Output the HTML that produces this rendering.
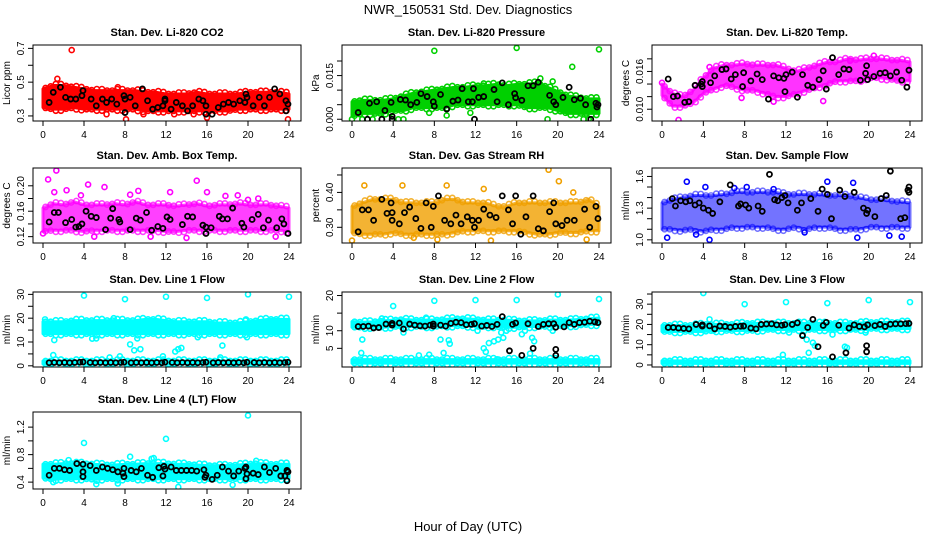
<!DOCTYPE html>
<html><head><meta charset="utf-8"><style>
html,body{margin:0;padding:0;background:#fff}
svg text{font-family:"Liberation Sans",sans-serif}
</style></head><body>
<svg id="chart" width="936" height="540" viewBox="0 0 936 540" xmlns="http://www.w3.org/2000/svg">
<text x="468" y="14" font-size="13" text-anchor="middle">NWR_150531  Std. Dev. Diagnostics</text>
<text x="468" y="531" font-size="13" text-anchor="middle">Hour of Day (UTC)</text>
</svg>
<script>
const xTicks = [0,4,8,12,16,20,24];

const co2Lo = [.35,.34,.34,.35,.34,.34,.34,.34,.34,.34,.33,.33,.33,.33,.33,.33,.33,.33,.33,.34,.34,.34,.34,.34,.34];
const co2Hi = [.46,.48,.48,.47,.46,.45,.45,.45,.45,.45,.44,.44,.43,.43,.43,.44,.43,.43,.43,.43,.44,.44,.44,.44,.43];
const co2Out = [[2.8,.69],[1.4,.52],[8.1,.28],[23.9,.28],[16,.29],[7.3,.47],[9.8,.31],[6.2,.31],[12.8,.31],[0.5,.35],[14.7,.31]];
const co2Blk = [[0.6,.38],[1,.44],[1.7,.47],[2.2,.41],[2.7,.40],[3.2,.40],[3.8,.42],[3.9,.45],[4.7,.40],[5.2,.36],[5.8,.40],[6.2,.38],[6.7,.40],[7.2,.37],[7.9,.42],[8,.40],[8,.32],[8.5,.41],[9,.36],[9.7,.46],[10.2,.39],[10.7,.34],[11.2,.35],[11.7,.36],[11.9,.39],[11.9,.40],[12.5,.34],[13,.38],[13.6,.36],[14.1,.33],[14.6,.36],[15.2,.40],[15.6,.39],[15.9,.36],[15.9,.31],[16.5,.31],[17.1,.35],[17.6,.37],[18.1,.38],[18.6,.37],[19.2,.39],[19.7,.38],[19.8,.43],[19.9,.41],[20.5,.36],[21.1,.41],[21.6,.36],[22.1,.41],[22.6,.46],[23.1,.43],[23.7,.39],[23.7,.33],[23.9,.37]];

const presLo = [.001,.002,.002,.002,.003,.003,.004,.004,.004,.004,.005,.005,.005,.005,.005,.005,.005,.004,.004,.004,.003,.002,.002,.002,.002];
const presHi = [.006,.0065,.0065,.0065,.007,.008,.009,.0095,.010,.0105,.011,.011,.0115,.0115,.012,.0115,.012,.012,.0125,.011,.0095,.008,.0075,.007,.007];
const presOut = [[8,.0235],[16,.0245],[24,.024],[21.4,.018],[19.5,.013],[18.3,.014],[12.8,.0123],[0,0],[1,0],[2,0],[4.5,0],[5,0],[19,0],[22.5,0],[23,0],[9.2,.0013],[7.5,.0022],[11.5,.0022]];
const presBlk = [[0.6,.0023],[1.5,0],[1.7,.0055],[2.4,.006],[2.9,0],[3.2,.003],[3.8,.0058],[3.9,.001],[3.9,0],[4.7,.0068],[5.2,.0066],[5.7,.005],[6.3,.0058],[6.7,.0088],[7.3,.0078],[7.9,.006],[8,.0045],[8.6,.0085],[9.2,.0035],[9.8,.0062],[10.3,.0066],[10.7,.0105],[11.3,.006],[11.7,.006],[11.8,.0105],[11.9,0],[12.3,.0075],[12.8,.0078],[13.8,.0102],[14.1,.006],[14.6,.0125],[15.2,.005],[15.8,.0088],[15.9,.0074],[16.5,.0065],[17.1,.0115],[17.6,.0115],[18.1,.0127],[19.2,.0082],[19.6,.006],[19.8,.005],[20.5,.0075],[21.1,.011],[21.6,.0067],[22.2,.0072],[22.7,.005],[23.2,0],[23.7,.0055],[23.8,.0042],[23.9,.005]];

const tempLo = [.0122,.0105,.0105,.011,.0125,.0132,.0138,.0135,.013,.013,.0125,.012,.012,.0125,.013,.0135,.014,.0145,.0145,.0145,.015,.015,.0148,.0145,.0145];
const tempHi = [.014,.0125,.012,.013,.015,.0165,.017,.017,.0172,.017,.017,.017,.0165,.016,.0165,.017,.0175,.0175,.018,.0178,.018,.018,.0178,.0178,.0175];
const tempOut = [[1.6,.0083],[18.2,.0177],[4.6,.0167],[10.8,.0112],[15.6,.0113],[7.7,.0118],[20.5,.0185],[0,.0142]];
const tempBlk = [[0.6,.0148],[1.1,.0120],[1.5,.0121],[2.2,.0111],[2.6,.0112],[3.2,.0138],[3.8,.0140],[3.9,.0144],[3.9,.0136],[4.7,.0142],[5.1,.0153],[5.8,.0163],[6.2,.0164],[6.7,.0148],[7.1,.0155],[7.8,.0136],[7.9,.0158],[8.6,.0145],[9.2,.0156],[9.7,.0147],[10.3,.0116],[10.8,.0153],[11.3,.0150],[11.8,.0149],[11.9,.0128],[12,.0155],[12.6,.0159],[13.1,.0119],[13.6,.0155],[14.1,.0138],[14.6,.0135],[15.2,.0147],[15.6,.0161],[15.9,.0132],[16.5,.0182],[17.1,.0155],[17.6,.0164],[18.1,.0163],[19.2,.0146],[19.7,.0157],[19.9,.0147],[19.8,.0169],[20.5,.0152],[21.1,.0157],[21.6,.0158],[22.1,.0153],[22.7,.0159],[23.2,.0146],[23.7,.0135],[23.9,.0162]];

const ambLo = [.128,.13,.13,.13,.128,.13,.13,.13,.13,.13,.13,.13,.128,.128,.13,.13,.13,.13,.13,.13,.13,.13,.13,.13,.128];
const ambHi = [.165,.172,.17,.175,.17,.17,.17,.172,.17,.175,.17,.17,.17,.168,.17,.172,.168,.17,.17,.172,.17,.17,.17,.168,.165];
const ambOut = [[0.5,.21],[1.3,.224],[1.1,.19],[4.4,.202],[3.7,.185],[2.3,.193],[6,.198],[9.3,.192],[12.4,.19],[15,.208],[16,.19],[19,.185],[20,.178],[21,.18],[0,.125],[5,.12],[14,.118],[22.7,.12],[8.5,.186],[17.8,.184],[10.5,.12]];
const ambBlk = [[0.6,.143],[1.1,.158],[1.5,.158],[2.2,.142],[2.8,.147],[3.2,.135],[3.5,.136],[3.8,.14],[4.2,.16],[4.7,.152],[5.2,.15],[6.1,.131],[6.6,.149],[6.8,.164],[7.4,.147],[7.5,.143],[8.5,.131],[9.1,.149],[9.5,.146],[10.1,.158],[10.6,.13],[11.2,.136],[11.7,.133],[12.1,.151],[12.4,.147],[13.6,.139],[14.1,.152],[14.6,.151],[15.6,.138],[15.9,.135],[15.9,.125],[16.4,.134],[17.2,.152],[17.5,.148],[18,.148],[18.5,.165],[19.4,.141],[19.6,.135],[20.4,.147],[21,.155],[21.5,.134],[22,.146],[22.8,.134],[23.3,.148],[23.5,.14],[23.9,.125]];

const rhLo = [.285,.28,.28,.28,.285,.28,.28,.28,.28,.28,.285,.29,.29,.29,.29,.29,.29,.285,.28,.28,.285,.285,.285,.29,.29];
const rhHi = [.36,.37,.38,.38,.38,.37,.37,.37,.37,.38,.38,.37,.37,.37,.36,.36,.37,.37,.37,.37,.37,.37,.37,.38,.36];
const rhOut = [[19.1,.465],[20.1,.432],[4.9,.42],[9.2,.42],[1.2,.42],[0,.262],[13.5,.262],[6,.27],[12.8,.41],[21.5,.4],[8.3,.265],[22.8,.265]];
const rhBlk = [[0.6,.287],[1,.35],[1.6,.35],[2.1,.32],[2.9,.38],[3.4,.34],[3.8,.37],[3.9,.342],[3.9,.32],[4.6,.31],[5.1,.342],[5.6,.358],[6.2,.325],[6.7,.297],[7.2,.37],[7.7,.30],[7.9,.36],[8.4,.39],[9,.32],[9.6,.31],[10.1,.335],[10.6,.31],[11.2,.33],[11.7,.32],[11.9,.30],[12.3,.32],[12.8,.352],[13.4,.335],[14,.328],[14.6,.39],[15.2,.35],[15.6,.31],[15.9,.39],[16.4,.28],[16.9,.33],[17.6,.39],[18.1,.296],[18.6,.29],[19.2,.345],[19.6,.37],[19.8,.31],[20.4,.305],[20.9,.32],[21.6,.32],[22.6,.352],[23.1,.30],[23.7,.36],[23.9,.325]];

const flowLo = [1.1,1.1,1.09,1.1,1.08,1.1,1.1,1.12,1.12,1.12,1.12,1.1,1.1,1.12,1.1,1.12,1.12,1.1,1.1,1.1,1.12,1.12,1.12,1.12,1.12];
const flowHi = [1.35,1.38,1.4,1.42,1.42,1.42,1.43,1.45,1.45,1.45,1.45,1.45,1.43,1.43,1.43,1.43,1.42,1.42,1.42,1.4,1.38,1.38,1.37,1.36,1.35];
const flowOut = [[0.5,1.02],[2.4,1.55],[4.2,1.5],[18.5,1.54],[4.6,1.0],[18.9,1.02],[22,1.04],[16,1.55],[7,1.49],[8.2,1.5],[10.8,1.48],[3.3,1.05],[13.8,1.07],[23.2,1.03]];
const flowBlk = [[1,1.39],[1.3,1.32],[1.8,1.37],[2.3,1.36],[2.7,1.37],[3.2,1.33],[3.6,1.35],[4,1.3],[4.5,1.28],[4.9,1.25],[5.6,1.36],[6.6,1.52],[7.4,1.32],[7.6,1.34],[8.1,1.33],[8.4,1.3],[9.3,1.32],[9.7,1.27],[10.4,1.62],[10.9,1.38],[11.2,1.37],[11.6,1.40],[11.9,1.42],[12.2,1.35],[13.1,1.28],[13.5,1.35],[14.4,1.39],[15.1,1.27],[15.5,1.48],[16,1.43],[16.4,1.2],[17.2,1.47],[17.7,1.41],[18.6,1.45],[19.5,1.30],[19.8,1.25],[19.9,1.28],[20.6,1.22],[21.2,1.39],[21.7,1.42],[22.1,1.65],[23.1,1.2],[23.5,1.21],[23.8,1.47],[23.9,1.5],[23.9,1.45]];

const l1Lo = [13.5,13.5,13.5,13.5,13.5,13.5,13.5,13.5,13.5,13.5,13.5,13.5,13.5,13.5,13.5,13.5,13.5,13.5,13.5,13.5,13.5,13.5,13.5,13.5,13.5];
const l1Hi = [18.5,18.5,18.5,19,19,19,19,19,19,19,19.5,19.5,19,18.5,18.5,18.5,18.5,18,18,18,18.5,19,19.5,19.5,19.5];
const l1bLo = [0.8,0.8,0.8,0.8,0.8,0.8,0.8,0.8,0.8,0.8,0.8,0.8,0.8,0.8,0.8,0.8,0.8,0.8,0.8,0.8,0.8,0.8,0.8,0.8,0.8];
const l1bHi = [2,2,2,2,2,2,2,2,2,2,2,2,2,2,2,2,2,2,2,2,2,2,2,2,2];
const l1Out = [[4,29.5],[8,28],[12,29],[16,28.5],[20,30],[24,29],[0.2,19.5],[1.1,10.8],[1,4.5],[6.5,3.5],[7.5,4],[8.5,9],[8.9,6.5],[9.5,7],[9.2,11.5],[12.9,6],[13.2,7],[13.5,7.5],[15.1,12],[17.5,8.5],[17.3,3.5],[19.9,12],[4.8,11.4],[5.2,11.5],[6.9,20],[19.8,19.5],[11.7,4]];
const l1BlkX = [0.6,1.1,1.6,2.1,2.6,3.1,3.6,3.9,4.6,5.1,5.6,6.1,6.6,7.1,7.6,7.9,8.6,9.1,9.6,10.1,10.6,11.1,11.6,11.9,12.6,13.1,13.6,14.1,14.6,15.1,15.6,15.9,16.6,17.1,17.6,18.1,18.6,19.1,19.6,19.9,20.6,21.1,21.6,22.1,22.6,23.1,23.6,23.9];
const l1BlkY = [1.3,1.4,1.3,1.4,1.3,1.4,1.5,1.6,1.4,1.3,1.4,1.3,1.4,1.3,1.4,1.5,1.3,1.4,1.3,1.4,1.3,1.4,1.3,1.5,1.4,1.3,1.4,1.3,1.4,1.3,1.4,1.5,1.3,1.4,1.3,1.4,1.3,1.4,1.3,1.5,1.4,1.3,1.4,1.3,1.4,1.3,1.4,1.5];

const l2Lo = [11,11,11,11,11.2,11.2,11.2,11.2,11.2,11.4,11.4,11.4,11.2,11.2,11.2,11,11,11.2,11.2,11.2,11.4,11.4,11.6,11.8,11.8];
const l2Hi = [12.6,12.4,12.5,12.8,13,13.2,13,13,13,13.2,13.4,13.4,13.2,13,13,13,12.8,12.8,12.8,13,13,13,13.2,13.4,13.6];
const l2bLo = [0.8,0.8,0.8,0.8,0.8,0.8,0.8,0.8,0.8,0.8,0.8,0.8,0.8,0.8,0.8,0.8,0.8,0.8,0.8,0.8,0.8,0.8,0.8,0.8,0.8];
const l2bHi = [1.8,1.8,1.8,1.8,1.8,1.8,1.8,1.8,1.8,1.8,1.8,1.8,1.8,1.8,1.8,1.8,1.8,1.8,1.8,1.8,1.8,1.8,1.8,1.8,1.8];
const l2Out = [[4,17],[8,18.5],[12,18.7],[16,18.7],[20,20.3],[24,19],[1,7.5],[0.9,3.7],[2.9,13.5],[6.5,3],[7.2,13.7],[7.5,3.2],[8.6,7.5],[8.9,3.7],[9.4,7.3],[9.5,6.3],[12.2,10],[12.8,5],[13,4],[13.3,6.5],[13.8,7],[14.2,7.5],[14.5,9.5],[14.7,8],[15,10],[16.5,9],[16.8,10],[17.3,3.5],[17.5,8],[17.7,7],[19.5,10],[5,9.5],[14.1,1.9]];
const l2Blk = [[0.6,11.2],[1.1,11.2],[1.6,11.3],[2.1,10.8],[2.6,10.9],[3.3,11.9],[3.9,12.1],[3.9,11.6],[4.6,12.2],[5,10.5],[5.6,11.9],[6.1,11.6],[6.6,11.4],[7.1,11.3],[7.6,11.6],[7.9,11.9],[7.9,11.3],[8.6,11.6],[9.1,11.3],[9.6,12.1],[10.1,12.4],[10.6,12.3],[11.1,11.7],[11.6,11.8],[11.9,12],[12.6,11.3],[13.1,11.5],[13.6,11.2],[14.1,11.8],[14.6,14],[15.3,4.3],[15.6,11.8],[15.9,12.2],[16.5,3],[17.1,12],[17.6,5],[18.1,11.2],[18.6,11.8],[19.1,12],[19.6,12],[19.8,11],[19.8,3],[19.8,4.7],[20.6,11.1],[21.1,12.3],[21.6,11.8],[22.1,12.3],[22.6,12.4],[23.1,12.7],[23.6,12.5],[23.9,12.3]];

const l3Lo = [16.5,16.5,16.5,16.5,16.5,17,17,17,17,17,17.5,17.5,17.5,17.5,17.5,17.5,17.5,17.5,17.5,17.5,18,18,18,18,18];
const l3Hi = [19.5,19.5,19.5,19.5,20,20,20,20,20.5,20.5,20.5,20.5,20.5,20.5,20.5,20.5,20.5,20.5,20.5,20.5,21,21,21,21,21];
const l3bLo = [0.8,0.8,0.8,0.8,0.8,0.8,0.8,0.8,0.8,0.8,0.8,0.8,0.8,0.8,0.8,0.8,0.8,0.8,0.8,0.8,0.8,0.8,0.8,0.8,0.8];
const l3bHi = [2,2,2,2,2,2,2,2,2,2,2,2,2,2,2,2,2,2,2,2,2,2,2,2,2];
const l3Out = [[4,35.5],[8,30],[12,31],[16,30.5],[20,32],[24,31],[4.6,22.5],[11.7,5],[13.6,15],[14,12.5],[14.2,6],[14.6,11],[14.8,9.5],[16.5,15],[17.7,9],[17.9,8.5],[19.7,16],[12.3,16],[5,17]];
const l3Blk = [[0.6,18.5],[1.1,18.5],[1.6,18.2],[2.1,18],[2.6,17.8],[3.3,20],[3.9,19.8],[3.9,19.2],[4.6,19.3],[5.1,17.8],[5.6,19.2],[6.1,19],[6.6,18.6],[7.1,19],[7.6,19.1],[7.9,19.2],[8.6,18.2],[9.1,17.8],[9.6,20],[10.1,20.2],[10.6,20.3],[11.1,19.8],[11.6,19.6],[11.9,19.9],[12.6,20],[13.1,20.8],[13.6,14.5],[14.1,18.5],[14.6,22.5],[15.1,9],[15.6,19.5],[15.9,21],[16.5,4],[17.1,19.6],[17.8,6],[18.1,18.2],[18.6,19.8],[19.1,19],[19.6,18.8],[19.8,9.5],[19.8,6.5],[19.9,19.8],[20.6,19.4],[21.1,20],[21.6,19],[22.1,20.1],[22.6,20.3],[23.1,20.3],[23.6,20.4],[23.9,20.5]];

const l4Lo = [.46,.44,.45,.45,.45,.44,.45,.45,.45,.45,.45,.45,.45,.45,.45,.45,.45,.45,.45,.45,.45,.45,.45,.45,.46];
const l4Hi = [.66,.66,.67,.67,.67,.66,.65,.65,.66,.66,.67,.67,.67,.66,.66,.65,.64,.64,.64,.65,.66,.67,.66,.66,.66];
const l4Out = [[4,.97],[12,1.03],[20,1.37],[8.5,.77],[13.2,.33],[5.2,.37],[18.5,.36],[2.5,.72],[10.8,.75],[20.8,.71],[7.3,.38],[1,.4],[10.6,.74]];
const l4Blk = [[0.6,.5],[1.1,.6],[1.6,.6],[2.1,.58],[2.6,.57],[3.3,.67],[3.9,.66],[3.9,.55],[3.9,.48],[4.6,.64],[5.2,.57],[5.8,.62],[6.3,.6],[6.8,.58],[7.3,.55],[7.8,.53],[7.9,.6],[7.9,.48],[8.6,.57],[9.1,.55],[9.6,.6],[10.2,.5],[10.7,.47],[11.3,.61],[11.7,.49],[11.8,.63],[11.9,.59],[12.5,.62],[13,.57],[13.5,.57],[14,.57],[14.5,.57],[15,.56],[15.7,.58],[15.8,.47],[15.9,.5],[16.5,.44],[17,.5],[17.5,.62],[18.1,.56],[18.6,.49],[19.1,.56],[19.7,.6],[19.8,.62],[19.8,.45],[19.9,.52],[20.5,.53],[21,.51],[21.6,.62],[22.1,.54],[22.7,.6],[23.2,.49],[23.6,.49],[23.8,.57],[23.8,.42],[23.9,.55]];

const svg = document.getElementById('chart');
const NS = 'http://www.w3.org/2000/svg';
function mk(tag, attrs, parent){const e=document.createElementNS(NS,tag);for(const k in attrs)e.setAttribute(k,attrs[k]);(parent||svg).appendChild(e);return e;}

const colL=[33,342,652], colR=[301,611,922];
const rowT=[45,168,292,412], rowB=[121,243,367,489];

const panels = [
 {name:'co2',title:'Stan. Dev. Li-820 CO2',ylab:'Licor ppm',c:0,r:0,ymin:.27,ymax:.72,ticks:[.3,.4,.5,.6,.7],labs:['0.3','','0.5','','0.7'],col:'#ff0000',op:1,bands:[[co2Lo,co2Hi]],out:co2Out,blk:co2Blk},
 {name:'pressure',title:'Stan. Dev. Li-820 Pressure',ylab:'kPa',c:1,r:0,ymin:-0.0006,ymax:.0255,ticks:[0,.005,.01,.015,.02],labs:['0.000','','','0.015',''],col:'#00d000',op:1,bands:[[presLo,presHi]],out:presOut,blk:presBlk},
 {name:'temp',title:'Stan. Dev. Li-820 Temp.',ylab:'degrees C',c:2,r:0,ymin:.00813,ymax:.0202,ticks:[.010,.012,.014,.016,.018],labs:['0.010','','','0.016',''],col:'#ff00ff',op:.8,bands:[[tempLo,tempHi]],out:tempOut,blk:tempBlk},
 {name:'amb-box-temp',title:'Stan. Dev. Amb. Box Temp.',ylab:'degrees C',c:0,r:1,ymin:.11,ymax:.228,ticks:[.12,.14,.16,.18,.20],labs:['0.12','','0.16','','0.20'],col:'#ff00ff',op:.75,bands:[[ambLo,ambHi]],out:ambOut,blk:ambBlk},
 {name:'gas-rh',title:'Stan. Dev. Gas Stream RH',ylab:'percent',c:1,r:1,ymin:.255,ymax:.47,ticks:[.30,.35,.40,.45],labs:['0.30','','0.40',''],col:'#f0a000',op:.8,bands:[[rhLo,rhHi]],out:rhOut,blk:rhBlk},
 {name:'sample-flow',title:'Stan. Dev. Sample Flow',ylab:'ml/min',c:2,r:1,ymin:.97,ymax:1.68,ticks:[1.0,1.1,1.2,1.3,1.4,1.5,1.6],labs:['1.0','','','1.3','','','1.6'],col:'#0000ff',op:.55,bands:[[flowLo,flowHi]],out:flowOut,blk:flowBlk},
 {name:'line1-flow',title:'Stan. Dev. Line 1 Flow',ylab:'ml/min',c:0,r:2,ymin:-0.5,ymax:31,ticks:[0,5,10,15,20,25,30],labs:['0','','10','','20','','30'],col:'#00ffff',op:1,bands:[[l1Lo,l1Hi],[l1bLo,l1bHi]],out:l1Out,blk:l1BlkX.map((x,i)=>[x,l1BlkY[i]])},
 {name:'line2-flow',title:'Stan. Dev. Line 2 Flow',ylab:'ml/min',c:1,r:2,ymin:-0.3,ymax:21,ticks:[5,10,15,20],labs:['5','10','','20'],col:'#00ffff',op:1,bands:[[l2Lo,l2Hi],[l2bLo,l2bHi]],out:l2Out,blk:l2Blk},
 {name:'line3-flow',title:'Stan. Dev. Line 3 Flow',ylab:'ml/min',c:2,r:2,ymin:-1,ymax:36,ticks:[0,5,10,15,20,25,30,35],labs:['0','','10','','20','','30',''],col:'#00ffff',op:1,bands:[[l3Lo,l3Hi],[l3bLo,l3bHi]],out:l3Out,blk:l3Blk},
 {name:'line4-flow',title:'Stan. Dev. Line 4 (LT) Flow',ylab:'ml/min',c:0,r:3,ymin:.3,ymax:1.42,ticks:[.4,.6,.8,1.0,1.2],labs:['0.4','','0.8','','1.2'],col:'#00ffff',op:1,bands:[[l4Lo,l4Hi]],out:l4Out,blk:l4Blk}
];

panels.forEach(p=>{
  const L=colL[p.c], R=colR[p.c], T=rowT[p.r], B=rowB[p.r];
  const xs = h => (L+10) + h/24*((R-12)-(L+10));
  const ys = v => B - (v-p.ymin)/(p.ymax-p.ymin)*(B-T);
  const g = mk('g',{});
  
  
  const t = mk('text',{x:(L+R)/2,y:T-9,'font-size':'11','font-weight':'bold','text-anchor':'middle'},g);
  t.textContent = p.title;
  
  
  const cl = mk('clipPath',{id:'clip-'+p.name},g);
  mk('rect',{x:L,y:T,width:R-L,height:B-T},cl);
  const marks = mk('g',{'clip-path':'url(#clip-'+p.name+')'},g);
  p.bands.forEach((b,bi)=>{
    const lo=b[0], hi=b[1];
    let pts=[];
    for(let h=0;h<hi.length;h++) pts.push(xs(h)+','+ys(hi[h]));
    for(let h=lo.length-1;h>=0;h--) pts.push(xs(h)+','+ys(lo[h]));
    const poly = mk('polygon',{points:pts.join(' '),fill:p.col,stroke:p.col,'stroke-width':3,'stroke-linejoin':'round','fill-opacity':p.op,'stroke-opacity':p.op},marks);
    
    
    // bumpy edge circles along envelope
    for(let k=0;k<hi.length-1;k++){
      for(const f of [0.25,0.75]){
        const h=k+f;
        const vh=hi[k]+(hi[k+1]-hi[k])*f, vl=lo[k]+(lo[k+1]-lo[k])*f;
        [vh,vl].forEach((v,j)=>{
          const e = mk('circle',{cx:xs(h),cy:ys(v)+(j?1:-1)*(k%2?1.5:0),r:2.6,fill:'none',stroke:p.col,'stroke-width':1.6,'stroke-opacity':p.op},marks);
          
          
        });
      }
    }
  });
  p.out.forEach(d=>{
    const c = mk('circle',{cx:xs(d[0]),cy:ys(d[1]),r:2.5,fill:'none',stroke:p.col,'stroke-width':1.6},marks);
    
    
  });
  p.blk.forEach(d=>{
    const c = mk('circle',{cx:xs(d[0]),cy:ys(d[1]),r:2.5,fill:'none',stroke:'#000','stroke-width':1.8},marks);
    
    
  });
  const box = mk('rect',{x:L,y:T,width:R-L,height:B-T,fill:'none',stroke:'#000','stroke-width':1},g);
  
  
  xTicks.forEach(h=>{
    mk('line',{x1:xs(h),x2:xs(h),y1:B,y2:B+5,stroke:'#000'},g);
    const tl = mk('text',{x:xs(h),y:B+17,'font-size':'10','text-anchor':'middle'},g);
    tl.textContent = h;
    
    
  });
  p.ticks.forEach((v,i)=>{
    const y=ys(v);
    mk('line',{x1:L-5,x2:L,y1:y,y2:y,stroke:'#000'},g);
    if(p.labs[i]){
      const tl = mk('text',{x:0,y:0,'font-size':'10','text-anchor':'middle',transform:'translate('+(L-9)+','+y+') rotate(-90)'},g);
      tl.textContent = p.labs[i];
      
      
    }
  });
  const yl = mk('text',{x:0,y:0,'font-size':'10','text-anchor':'middle',transform:'translate('+(L-23)+','+((T+B)/2)+') rotate(-90)'},g);
  yl.textContent = p.ylab;
  
  
});
</script>
</body></html>
